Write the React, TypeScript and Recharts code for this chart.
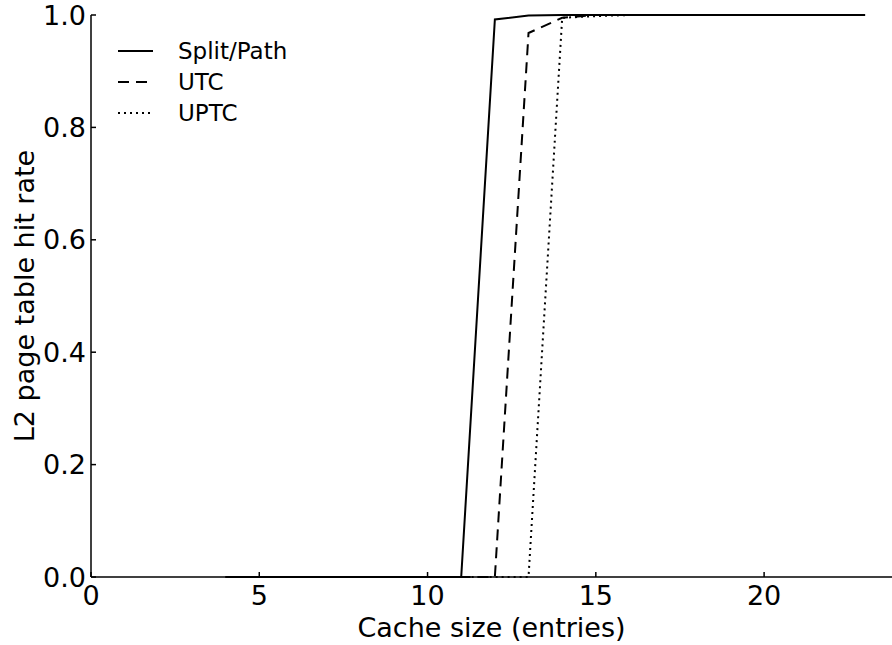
import { LineChart, Line, XAxis, YAxis, Legend } from "recharts"

// cache sizes (entries) and hit rates per scheme
const cacheSizes = [4, 5, 6, 7, 8, 9, 10, 11, 12, 13, 14, 15, 16, 17, 18, 19, 20, 21, 22, 23]
const splitPath = [0, 0, 0, 0, 0, 0, 0, 0, 0.992, 0.999, 1, 1, 1, 1, 1, 1, 1, 1, 1, 1]
const utc = [0, 0, 0, 0, 0, 0, 0, 0, 0, 0.968, 0.995, 1, 1, 1, 1, 1, 1, 1, 1, 1]
const uptc = [0, 0, 0, 0, 0, 0, 0, 0, 0, 0, 0.995, 0.998, 1, 1, 1, 1, 1, 1, 1, 1]

const seriesNames = ["Split/Path", "UTC", "UPTC"]
const xTicks = [0, 5, 10, 15, 20]
const yTicks = [0, 0.2, 0.4, 0.6, 0.8, 1.0]

const data = cacheSizes.map((size, i) => ({
  size,
  splitPath: splitPath[i],
  utc: utc[i],
  uptc: uptc[i],
}))

const font = "'DejaVu Sans', sans-serif"
const dashes: Record<string, string> = {
  "Split/Path": "",
  UTC: "11 7",
  UPTC: "2 4",
}

// legend keeps the plotting order instead of the sorted payload
const renderLegend = () => (
  <div style={{ fontFamily: font, fontSize: 23, color: "#000" }}>
    {seriesNames.map((name) => (
      <div key={name} style={{ display: "flex", alignItems: "center", height: 31 }}>
        <svg width={35} height={10} style={{ marginRight: 25 }}>
          <line x1={0} y1={5} x2={35} y2={5} stroke="#000" strokeWidth={2} strokeDasharray={dashes[name]} />
        </svg>
        <span>{name}</span>
      </div>
    ))}
  </div>
)

const YLabel = (props: any) => {
  const { viewBox } = props
  const cx = 34
  const cy = viewBox.y + viewBox.height / 2
  return (
    <text
      x={cx}
      y={cy}
      transform={`rotate(-90 ${cx} ${cy})`}
      textAnchor="middle"
      fontFamily={font}
      fontSize={27}
      fill="#000"
    >
      L2 page table hit rate
    </text>
  )
}

export default function App() {
  const tickStyle = { fontFamily: font, fontSize: 27, fill: "#000" }
  return (
    <div style={{ position: "absolute", left: 0, top: 0, width: 892, height: 645, background: "#fff" }}>
      <LineChart width={892} height={645} data={data} margin={{ top: 15, right: 0, left: 0, bottom: 0 }}>
        <XAxis
          dataKey="size"
          type="number"
          domain={[0, 23.8]}
          allowDataOverflow
          ticks={xTicks}
          height={68}
          tickSize={-5}
          tickMargin={14}
          tick={tickStyle}
          stroke="#000"
          strokeWidth={1.5}
          label={{ value: "Cache size (entries)", position: "insideBottom", offset: 8, fontFamily: font, fontSize: 27, fill: "#000" }}
        />
        <XAxis
          xAxisId="top"
          dataKey="size"
          type="number"
          orientation="top"
          domain={[0, 23.8]}
          allowDataOverflow
          ticks={xTicks}
          height={0}
          tickSize={-5}
          tick={false}
          stroke="#000"
          strokeWidth={1.5}
        />
        <YAxis
          type="number"
          domain={[0, 1]}
          ticks={yTicks}
          width={91}
          tickSize={-5}
          tickMargin={10}
          tickFormatter={(v: number) => v.toFixed(1)}
          tick={tickStyle}
          stroke="#000"
          strokeWidth={1.5}
          label={<YLabel />}
        />
        <Legend
          layout="vertical"
          align="center"
          verticalAlign="middle"
          content={renderLegend}
          wrapperStyle={{ left: 118, top: 35, width: 220 }}
        />
        <Line name="Split/Path" dataKey="splitPath" stroke="#000" strokeWidth={2} dot={false} isAnimationActive={false} />
        <Line name="UTC" dataKey="utc" stroke="#000" strokeWidth={2} strokeDasharray="11 7" dot={false} isAnimationActive={false} />
        <Line name="UPTC" dataKey="uptc" stroke="#000" strokeWidth={2} strokeDasharray="2 4" dot={false} isAnimationActive={false} />
      </LineChart>
    </div>
  )
}
